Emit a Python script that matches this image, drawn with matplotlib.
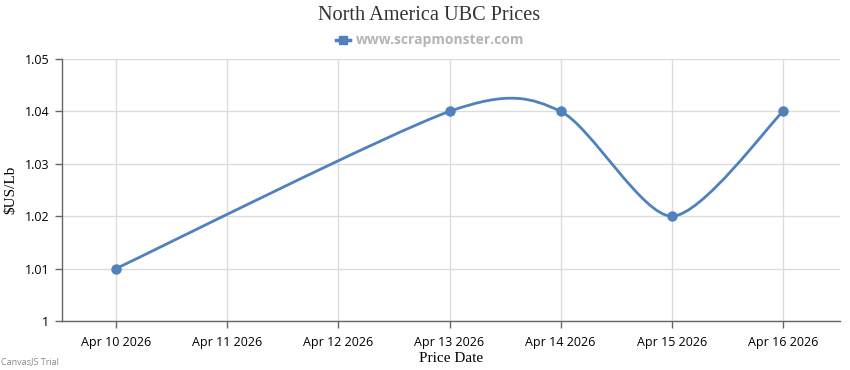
import matplotlib
matplotlib.use("Agg")
import matplotlib.pyplot as plt
import matplotlib.dates as mdates
from matplotlib.path import Path
from matplotlib.patches import PathPatch
from matplotlib.lines import Line2D
import datetime as dt

# Data
dates = ["2026-04-10", "2026-04-13", "2026-04-14", "2026-04-15", "2026-04-16"]
prices = [1.01, 1.04, 1.04, 1.02, 1.04]
tick_dates = ["2026-04-10", "2026-04-11", "2026-04-12", "2026-04-13",
              "2026-04-14", "2026-04-15", "2026-04-16"]
tick_labels = ["Apr 10 2026", "Apr 11 2026", "Apr 12 2026", "Apr 13 2026",
               "Apr 14 2026", "Apr 15 2026", "Apr 16 2026"]
y_ticks = [1.0, 1.01, 1.02, 1.03, 1.04, 1.05]
y_tick_labels = ["1", "1.01", "1.02", "1.03", "1.04", "1.05"]

color = "#4f81bc"

fig = plt.figure(figsize=(8.5, 3.7), dpi=100)
W, H = 850, 370
ax = fig.add_axes([62 / W, (H - 321) / H, (840 - 62) / W, (321 - 59) / H])

xd = [mdates.date2num(dt.datetime.strptime(d, "%Y-%m-%d")) for d in dates]
xt = [mdates.date2num(dt.datetime.strptime(d, "%Y-%m-%d")) for d in tick_dates]

# Spline (CanvasJS-style cubic bezier through the points)
pts = list(zip(xd, prices))
tension = 2.5
verts = [pts[0]]
codes = [Path.MOVETO]
n = len(pts)
for i in range(1, n):
    p = i - 1
    i1 = 0 if p == 0 else p - 1
    i2 = p if p == n - 1 else p + 1
    d1 = ((pts[i2][0] - pts[i1][0]) / tension, (pts[i2][1] - pts[i1][1]) / tension)
    cp1 = (pts[p][0] + d1[0] / 3, pts[p][1] + d1[1] / 3)
    p = i
    i1 = 0 if p == 0 else p - 1
    i2 = p if p == n - 1 else p + 1
    d2 = ((pts[i2][0] - pts[i1][0]) / tension, (pts[i2][1] - pts[i1][1]) / tension)
    cp2 = (pts[p][0] - d2[0] / 3, pts[p][1] - d2[1] / 3)
    verts += [cp1, cp2, pts[i]]
    codes += [Path.CURVE4] * 3
ax.add_patch(PathPatch(Path(verts, codes), facecolor="none", edgecolor=color,
                       lw=2, zorder=3, capstyle="round", joinstyle="round"))
ax.plot(xd, prices, "o", color=color, ms=6.5, zorder=4)

span = 111.2
x0 = xt[0]
ax.set_xlim(x0 - (116 - 62) / span, xt[-1] + (840 - 783) / span)
ax.set_ylim(1.0, 1.05)
ax.set_xticks(xt)
ax.set_xticklabels(tick_labels)
ax.set_yticks(y_ticks)
ax.set_yticklabels(y_tick_labels)

for lab in ax.get_xticklabels() + ax.get_yticklabels():
    lab.set_fontfamily("Open Sans")
    lab.set_fontsize(9)
    lab.set_color("black")

ax.grid(True, color="#dcdcdc", lw=1)
ax.set_axisbelow(True)
for s in ["top", "right"]:
    ax.spines[s].set_visible(False)
for s in ["left", "bottom"]:
    ax.spines[s].set_color("#666666")
    ax.spines[s].set_linewidth(1)
ax.tick_params(axis="both", length=5, color="#666666", width=1, pad=4)
ax.tick_params(axis="x", pad=6)

ax.set_xlabel("Price Date", family="Liberation Serif", fontsize=11, labelpad=2)
ax.set_ylabel("$US/Lb", family="Liberation Serif", fontsize=11, labelpad=5)

fig.text(0.5 + 4 / W, 1 - 15 / H, "North America UBC Prices", family="Liberation Serif",
         fontsize=14.6, ha="center", va="center", color="#333333")

# legend
ly = 1 - 40 / H
fig.add_artist(Line2D([336 / W, 350 / W], [ly, ly], color=color, lw=2.5,
                      transform=fig.transFigure))
fig.add_artist(Line2D([343 / W], [ly], color=color, marker="s", ms=5.5, lw=0,
                      transform=fig.transFigure))
fig.text(356 / W, ly, "www.scrapmonster.com", family="Open Sans", fontsize=10,
         fontweight="bold", color="#b4b4b4", ha="left", va="center")

fig.text(1 / W, 1 - 362 / H, "CanvasJS Trial", family="Open Sans", fontsize=6.5,
         color="#888888", ha="left", va="center")

fig.savefig("out.png", dpi=100)
